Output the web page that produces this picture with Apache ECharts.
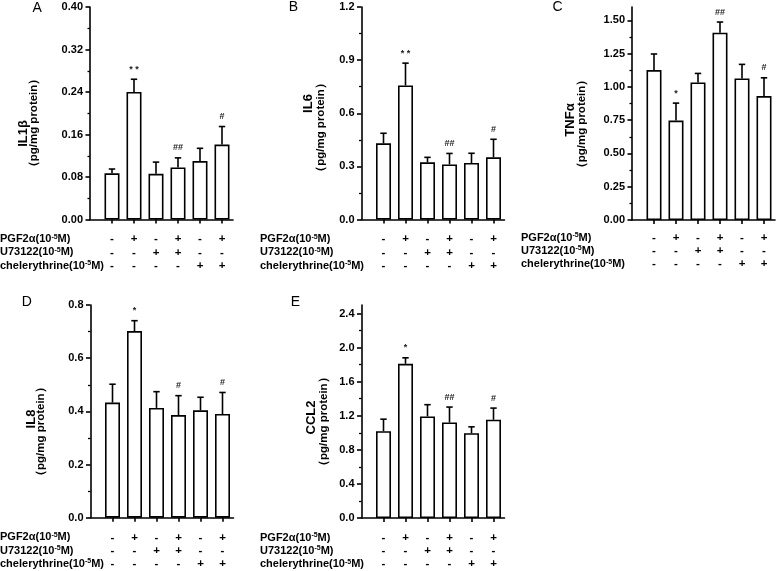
<!DOCTYPE html>
<html><head><meta charset="utf-8">
<script src="https://cdn.jsdelivr.net/npm/echarts@6/dist/echarts.min.js"></script>
<style>html,body{margin:0;padding:0;background:#fff}#c{width:779px;height:571px}</style>
</head><body><div id="c"></div><script>
// ---- data ----
const positions = [1, 2, 3, 4, 5, 6];
const pgfRow  = ['-', '+', '-', '+', '-', '+'];
const u73Row  = ['-', '-', '+', '+', '-', '-'];
const chelRow = ['-', '-', '-', '-', '+', '+'];
const rowLabels = ['PGF2α(10{sup|-5}M)', 'U73122(10{sup|-5}M)', 'chelerythrine(10{sup|-5}M)'];

const il1bMean = [0.087, 0.240, 0.086, 0.098, 0.110, 0.141];
const il1bErr  = [0.008, 0.024, 0.022, 0.018, 0.024, 0.034];
const il1bSig  = ['', '* *', '', '##', '', '#'];
const il1bTicks = [0, 0.08, 0.16, 0.24, 0.32, 0.40];

const il6Mean = [0.430, 0.757, 0.323, 0.311, 0.319, 0.351];
const il6Err  = [0.057, 0.126, 0.028, 0.062, 0.055, 0.102];
const il6Sig  = ['', '* *', '', '##', '', '#'];
const il6Ticks = [0, 0.3, 0.6, 0.9, 1.2];

const tnfMean = [1.126, 0.747, 1.033, 1.407, 1.063, 0.931];
const tnfErr  = [0.121, 0.131, 0.068, 0.080, 0.106, 0.137];
const tnfSig  = ['', '*', '', '##', '', '#'];
const tnfTicks = [0, 0.25, 0.50, 0.75, 1.00, 1.25, 1.50];

const il8Mean = [0.433, 0.702, 0.413, 0.386, 0.404, 0.390];
const il8Err  = [0.069, 0.039, 0.061, 0.073, 0.049, 0.081];
const il8Sig  = ['', '*', '', '#', '', '#'];
const il8Ticks = [0, 0.2, 0.4, 0.6, 0.8];

const ccl2Mean = [1.019, 1.810, 1.192, 1.121, 0.995, 1.153];
const ccl2Err  = [0.141, 0.070, 0.138, 0.181, 0.075, 0.137];
const ccl2Sig  = ['', '*', '', '##', '', '#'];
const ccl2Ticks = [0, 0.4, 0.8, 1.2, 1.6, 2.0, 2.4];

// ---- layout ----
const FONT = '"Liberation Sans", Arial, sans-serif';
const panels = [
  {letter:'A', name:'IL1β', mean:il1bMean, err:il1bErr, sig:il1bSig, ticks:il1bTicks, max:0.40, dec:2,
   grid:{left:90, top:7, width:143, height:212.5}, lm:13, rowX:0,
   L:[37.2, 8], t1:[23.5, 133.5], t2:[33.5, 123]},
  {letter:'B', name:'IL6', mean:il6Mean, err:il6Err, sig:il6Sig, ticks:il6Ticks, max:1.2, dec:1,
   grid:{left:361.5, top:7, width:143, height:212.5}, lm:13, rowX:260,
   L:[293.3, 7.5], t1:[308.3, 103.5], t2:[321, 127.5]},
  {letter:'C', name:'TNFα', mean:tnfMean, err:tnfErr, sig:tnfSig, ticks:tnfTicks, max:1.6, dec:2,
   grid:{left:632, top:7, width:143, height:213}, lm:11, rowX:521,
   L:[557.5, 7], t1:[570, 120], t2:[581.5, 124]},
  {letter:'D', name:'IL8', mean:il8Mean, err:il8Err, sig:il8Sig, ticks:il8Ticks, max:0.8, dec:1,
   grid:{left:90.5, top:305, width:143, height:212.7}, lm:13, rowX:0,
   L:[26.7, 302], t1:[31, 419], t2:[41, 431.7]},
  {letter:'E', name:'CCL2', mean:ccl2Mean, err:ccl2Err, sig:ccl2Sig, ticks:ccl2Ticks, max:2.5, dec:1,
   grid:{left:361.5, top:305, width:143, height:213}, lm:13, rowX:260,
   L:[295.3, 302], t1:[311.7, 417.5], t2:[324, 421.7]}
];

const grids = [], xAxes = [], yAxes = [], series = [], graphics = [];
const LW = 1.6;

panels.forEach((p, i) => {
  grids.push(Object.assign({containLabel:false}, p.grid));
  xAxes.push({
    type:'value', gridIndex:i, min:0, max:6.5,
    axisLine:{show:true, onZero:false, lineStyle:{color:'#000', width:LW}},
    axisTick:{show:true, customValues:positions, length:4, lineStyle:{color:'#000', width:LW}},
    axisLabel:{show:true, customValues:positions, margin:p.lm, lineHeight:13.3,
      color:'#000', fontWeight:'bold', fontSize:11.5, fontFamily:FONT,
      formatter:(v) => { const k = Math.round(v) - 1; return (k >= 0 && k < 6) ? [pgfRow[k], u73Row[k], chelRow[k]].join('\n') : ''; }},
    splitLine:{show:false}
  });
  const iv = p.ticks[1] - p.ticks[0];
  yAxes.push({
    type:'value', gridIndex:i, min:p.ticks[0], max:p.max, interval:iv,
    axisLine:{show:true, onZero:false, lineStyle:{color:'#000', width:LW}},
    axisTick:{show:true, customValues:p.ticks, length:4.5, lineStyle:{color:'#000', width:LW}},
    minorTick:{show:true, splitNumber:2, length:2.5, lineStyle:{color:'#000', width:1.3}},
    axisLabel:{show:true, customValues:p.ticks, margin:7, color:'#000', fontWeight:'bold', fontSize:11, fontFamily:FONT,
      formatter:(v) => v.toFixed(p.dec)},
    splitLine:{show:false}
  });
  series.push({
    type:'bar', xAxisIndex:i, yAxisIndex:i, barWidth:15, silent:true,
    itemStyle:{color:'#fff', borderColor:'#000', borderWidth:LW},
    data: positions.map((x, k) => [x, p.mean[k]])
  });
  series.push({
    type:'custom', xAxisIndex:i, yAxisIndex:i, silent:true, z:5,
    data: positions.map((x, k) => [x, p.mean[k], p.err[k]]),
    renderItem: (params, api) => {
      const x = api.value(0), v = api.value(1), e = api.value(2);
      const a = api.coord([x, v]), b = api.coord([x, v + e]);
      const st = {stroke:'#000', lineWidth:LW, fill:null};
      const ch = [
        {type:'line', shape:{x1:a[0], y1:a[1], x2:b[0], y2:b[1]}, style:st},
        {type:'line', shape:{x1:b[0]-3.2, y1:b[1], x2:b[0]+3.2, y2:b[1]}, style:st}
      ];
      const s = p.sig[params.dataIndex];
      if (s) ch.push({type:'text', x:b[0], y:b[1]-10,
        style:{text:s, fill:'#222', font:'bold 9px ' + FONT, align:'center', verticalAlign:'middle', textAlign:'center', textVerticalAlign:'middle'}});
      return {type:'group', children:ch};
    }
  });
  // panel letter
  graphics.push({type:'text', x:p.L[0], y:p.L[1], silent:true,
    style:{text:p.letter, fill:'#000', font:'14px ' + FONT, align:'center', verticalAlign:'middle', textAlign:'center', textVerticalAlign:'middle'}});
  // axis title
  graphics.push({type:'text', x:p.t1[0], y:p.t1[1], rotation:Math.PI/2, silent:true,
    style:{text:p.name, fill:'#000', font:'bold 13px ' + FONT, align:'center', verticalAlign:'middle', textAlign:'center', textVerticalAlign:'middle'}});
  graphics.push({type:'text', x:p.t2[0], y:p.t2[1], rotation:Math.PI/2, silent:true,
    style:{text:'（pg/mg protein）', fill:'#000', font:'bold 11.5px ' + FONT, align:'center', verticalAlign:'middle', textAlign:'center', textVerticalAlign:'middle'}});
  // treatment row labels
  const y0 = p.grid.top + p.grid.height + p.lm + 6.65;
  rowLabels.forEach((t, r) => {
    graphics.push({type:'text', x:p.rowX, y:y0 + r * 13.3, silent:true,
      style:{text:t, fill:'#000', fontFamily:FONT, fontWeight:'bold', fontSize:11, lineHeight:12,
        font:'bold 11px ' + FONT,
        align:'left', verticalAlign:'middle', textAlign:'left', textVerticalAlign:'middle',
        rich:{sup:{fontFamily:FONT, fontWeight:'bold', fontSize:7, fill:'#000', verticalAlign:'top', lineHeight:8}}}});
  });
});

const chart = echarts.init(document.getElementById('c'), null, {renderer:'canvas'});
chart.setOption({
  animation:false, backgroundColor:'#fff',
  grid:grids, xAxis:xAxes, yAxis:yAxes, series:series, graphic:{elements:graphics}
});
</script></body></html>
